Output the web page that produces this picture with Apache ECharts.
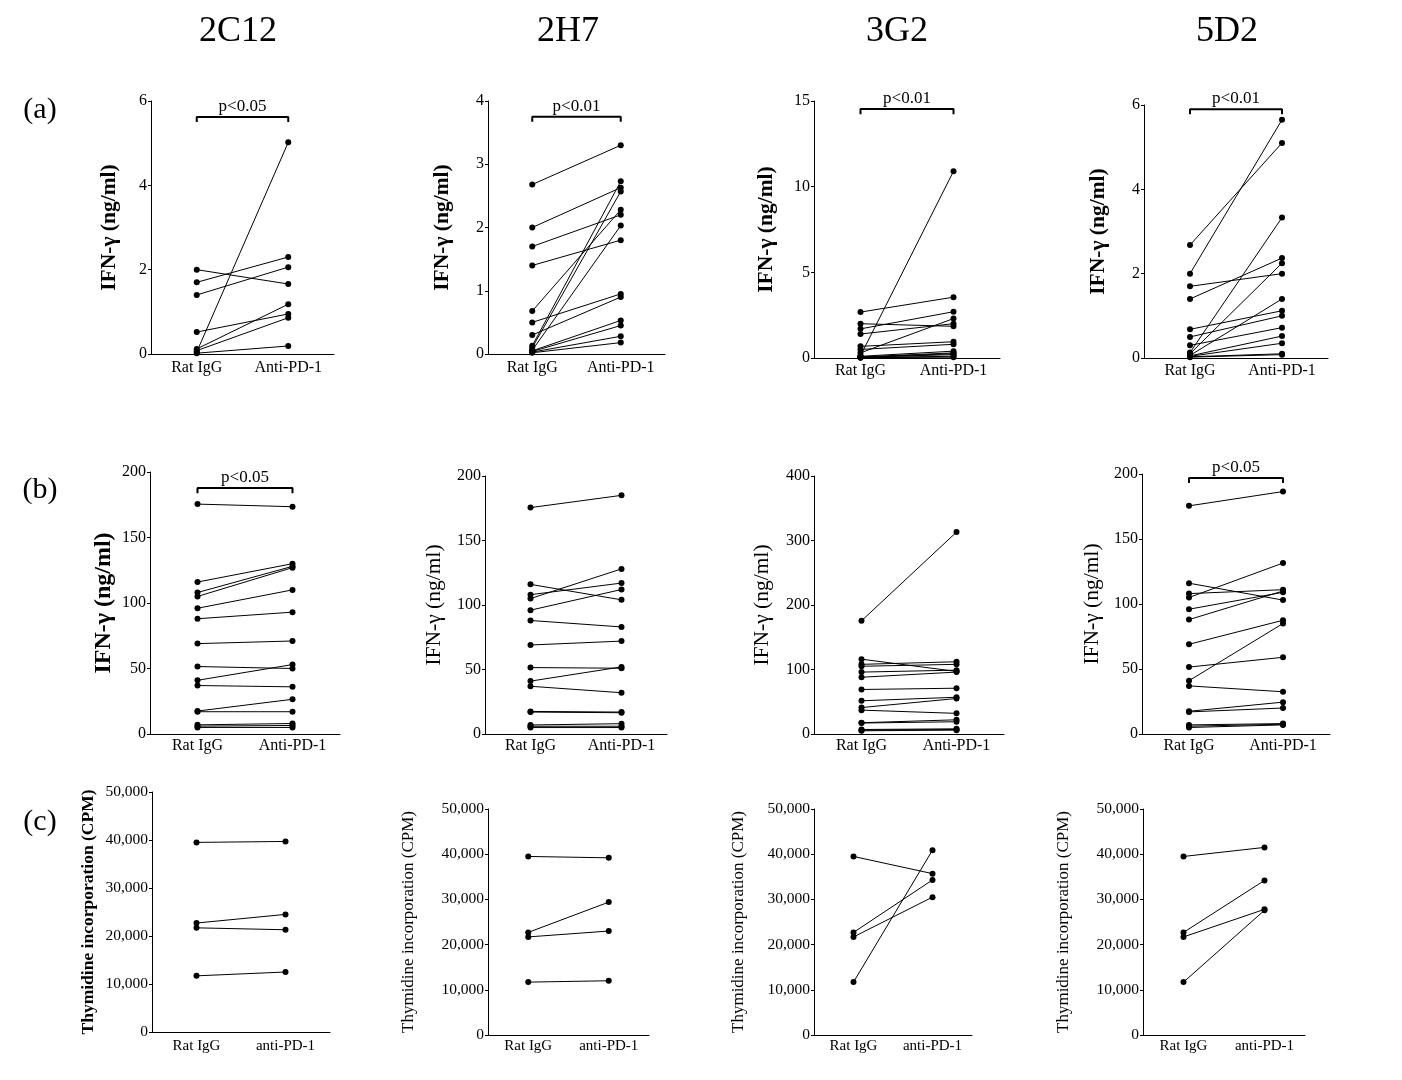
<!DOCTYPE html>
<html>
<head>
<meta charset="utf-8">
<script src="https://cdn.jsdelivr.net/npm/echarts@6/dist/echarts.min.js"></script>
<style>
  html, body { margin: 0; padding: 0; background: #fff; }
  #main { width: 1402px; height: 1080px; }
</style>
</head>
<body>
<div id="main"></div>
<script>
// categories
const catsAB = ['Rat IgG', 'Anti-PD-1'];
const catsC = ['Rat IgG', 'anti-PD-1'];
const columnTitles = ['2C12', '2H7', '3G2', '5D2'];
const rowTitles = ['(a)', '(b)', '(c)'];

// (a) IFN-gamma ng/ml, paired Rat IgG -> Anti-PD-1
const rat2C12a  = [0.05, 2.0, 1.7, 1.4, 0.52, 0.12, 0.08, 0.02];
const anti2C12a = [5.02, 1.66, 2.30, 2.06, 0.95, 1.18, 0.86, 0.19];
const ratA     = [2.68, 2.0, 1.7, 1.4, 0.68, 0.5, 0.3, 0.13, 0.1, 0.06, 0.05, 0.04, 0.03, 0.02];
const anti2H7a = [3.3, 2.63, 2.2, 1.8, 2.28, 0.95, 0.9, 2.73, 2.57, 2.03, 0.53, 0.45, 0.28, 0.18];
const anti3G2a = [3.55, 1.85, 2.7, 2.0, 0.95, 0.8, 2.3, 10.9, 0.4, 0.3, 0.25, 0.2, 0.1, 0.05];
const anti5D2a = [5.1, 5.65, 2.0, 2.37, 1.12, 1.0, 0.72, 3.33, 2.25, 1.4, 0.52, 0.35, 0.1, 0.08];

// (b) IFN-gamma ng/ml
const ratB      = [175.5, 116, 108, 105, 96, 88, 69, 51.5, 41, 37, 17.5, 17, 7, 6, 5];
const anti2C12b = [173.5, 130, 128, 127, 110, 93, 71, 50, 53, 36, 26.5, 17, 8, 6.5, 5];
const anti2H7b  = [185, 104, 117, 128, 112, 83, 72, 51, 52, 32, 17, 16.5, 8, 6, 5];
const anti3G2b  = [313, 97, 112, 108, 99, 96, 71, 57, 55, 32, 22, 19, 8, 7, 6];
const anti5D2b  = [186.5, 103, 111, 131.5, 109, 110, 87.5, 59, 85, 32.5, 24.5, 20, 8, 7.5, 7];

// (c) thymidine incorporation CPM
const ratC      = [39500, 22700, 21700, 11700];
const anti2C12c = [39700, 24500, 21300, 12500];
const anti2H7c  = [39200, 29400, 23000, 12000];
const anti3G2c  = [35700, 34300, 30500, 40900];
const anti5D2c  = [41500, 34200, 27800, 27600];

// axis ranges / brackets
const yMaxA = [6, 4, 15, 6], yStepA = [2, 1, 5, 2];
const yMaxB = [200, 200, 400, 200], yStepB = [50, 50, 100, 50];
const yMaxC = 50000, yStepC = 10000;
const bracketA = [5.62, 3.75, 14.53, 5.9], pTextA = ['p<0.05', 'p<0.01', 'p<0.01', 'p<0.01'];
const bracketB = [187.8, null, null, 197], pTextB = ['p<0.05', null, null, 'p<0.05'];

const ifnName = 'IFN-\u03b3 (ng/ml)';
const thyName = 'Thymidine incorporation (CPM)';
const FONT = '"Liberation Serif", "Times New Roman", serif';

// panel layout
const panels = [
  { rat: rat2C12a, anti: anti2C12a, cats: catsAB, max: yMaxA[0], step: yStepA[0], box: [151, 101, 183, 253], name: ifnName, gap: 31, nsize: 21.5, nweight: 'bold', xm: 6, bracket: bracketA[0], p: pTextA[0] },
  { rat: ratA, anti: anti2H7a, cats: catsAB, max: yMaxA[1], step: yStepA[1], box: [488, 101, 177, 253], name: ifnName, gap: 35, nsize: 21.5, nweight: 'bold', xm: 6, bracket: bracketA[1], p: pTextA[1] },
  { rat: ratA, anti: anti3G2a, cats: catsAB, max: yMaxA[2], step: yStepA[2], box: [814, 101, 186, 257], name: ifnName, gap: 37, nsize: 21.5, nweight: 'bold', xm: 5, bracket: bracketA[2], p: pTextA[2] },
  { rat: ratA, anti: anti5D2a, cats: catsAB, max: yMaxA[3], step: yStepA[3], box: [1144, 105, 184, 253], name: ifnName, gap: 35, nsize: 21.5, nweight: 'bold', xm: 5, bracket: bracketA[3], p: pTextA[3] },

  { rat: ratB, anti: anti2C12b, cats: catsAB, max: yMaxB[0], step: yStepB[0], box: [150, 472, 190, 262], name: ifnName, gap: 34, nsize: 24, nweight: 'bold', xm: 4, bracket: bracketB[0], p: pTextB[0] },
  { rat: ratB, anti: anti2H7b, cats: catsAB, max: yMaxB[1], step: yStepB[1], box: [485, 476, 182, 258], name: ifnName, gap: 40, nsize: 21.5, nweight: 'normal', xm: 4, bracket: bracketB[1], p: pTextB[1] },
  { rat: ratB, anti: anti3G2b, cats: catsAB, max: yMaxB[2], step: yStepB[2], box: [814, 476, 190, 258], name: ifnName, gap: 41, nsize: 21.5, nweight: 'normal', xm: 4, bracket: bracketB[2], p: pTextB[2] },
  { rat: ratB, anti: anti5D2b, cats: catsAB, max: yMaxB[3], step: yStepB[3], box: [1142, 474, 188, 260], name: ifnName, gap: 39, nsize: 21.5, nweight: 'normal', xm: 4, bracket: bracketB[3], p: pTextB[3] },

  { rat: ratC, anti: anti2C12c, cats: catsC, max: yMaxC, step: yStepC, box: [152, 792, 178, 240], name: thyName, gap: 55, nsize: 17.5, nweight: 'bold', xm: 7, xsize: 15 },
  { rat: ratC, anti: anti2H7c, cats: catsC, max: yMaxC, step: yStepC, box: [488, 809, 161, 226], name: thyName, gap: 71, nsize: 17, nweight: 'normal', xm: 4, xsize: 15 },
  { rat: ratC, anti: anti3G2c, cats: catsC, max: yMaxC, step: yStepC, box: [814, 809, 158, 226], name: thyName, gap: 67, nsize: 17, nweight: 'normal', xm: 4, xsize: 15 },
  { rat: ratC, anti: anti5D2c, cats: catsC, max: yMaxC, step: yStepC, box: [1143, 809, 162, 226], name: thyName, gap: 71, nsize: 17, nweight: 'normal', xm: 4, xsize: 15 }
];

const chart = echarts.init(document.getElementById('main'), null, { renderer: 'canvas' });

const black = { color: '#000', width: 1 };
const grids = [], xAxes = [], yAxes = [], series = [];

panels.forEach(function (p, i) {
  grids.push({
    left: p.box[0], top: p.box[1], width: p.box[2], height: p.box[3],
    containLabel: false, outerBoundsMode: 'none'
  });
  xAxes.push({
    type: 'category', gridIndex: i, data: p.cats, boundaryGap: true,
    axisLine: { show: true, lineStyle: black },
    axisTick: { show: false },
    axisLabel: { color: '#000', fontFamily: FONT, fontSize: p.xsize || 16, margin: p.xm },
    splitLine: { show: false }
  });
  yAxes.push({
    type: 'value', gridIndex: i, min: 0, max: p.max, interval: p.step,
    name: p.name, nameLocation: 'middle', nameRotate: 90, nameGap: p.gap,
    nameTextStyle: { color: '#000', fontFamily: FONT, fontSize: p.nsize, fontWeight: p.nweight },
    axisLine: { show: true, lineStyle: black },
    axisTick: { show: true, length: 3, lineStyle: black },
    axisLabel: {
      color: '#000', fontFamily: FONT, fontSize: p.max >= 10000 ? 15.5 : 16, margin: 4,
      formatter: function (v) { return p.max >= 10000 ? echarts.format.addCommas(v) : String(v); }
    },
    splitLine: { show: false }
  });
  p.rat.forEach(function (r, k) {
    series.push({
      type: 'line', xAxisIndex: i, yAxisIndex: i,
      data: [r, p.anti[k]],
      symbol: 'circle', symbolSize: 6, showSymbol: true,
      itemStyle: { color: '#000' },
      lineStyle: { color: '#000', width: 1 },
      silent: true, animation: false, z: 3
    });
  });
  if (p.bracket != null) {
    const d = p.max * 0.02;
    series.push({
      type: 'line', xAxisIndex: i, yAxisIndex: i,
      data: [[p.cats[0], p.bracket - d], [p.cats[0], p.bracket], [p.cats[1], p.bracket], [p.cats[1], p.bracket - d]],
      symbol: 'none', lineStyle: { color: '#000', width: 2 },
      silent: true, animation: false, z: 4
    });
  }
});

const staticText = [];
columnTitles.forEach(function (t, j) {
  staticText.push({
    type: 'text', x: [238, 568, 897, 1227][j], y: 32,
    style: { text: t, font: '36px ' + FONT, fill: '#000', textAlign: 'center', textVerticalAlign: 'middle' }
  });
});
rowTitles.forEach(function (t, j) {
  staticText.push({
    type: 'text', x: 40, y: [110, 490, 822][j],
    style: { text: t, font: '30px ' + FONT, fill: '#000', textAlign: 'center', textVerticalAlign: 'middle' }
  });
});

chart.setOption({
  animation: false,
  backgroundColor: '#fff',
  grid: grids,
  xAxis: xAxes,
  yAxis: yAxes,
  series: series,
  graphic: staticText
});

// p-value labels placed above the brackets through the axes' scales
const pLabels = [];
panels.forEach(function (p, i) {
  if (p.bracket == null) return;
  const a = chart.convertToPixel({ gridIndex: i }, [0, p.bracket]);
  const b = chart.convertToPixel({ gridIndex: i }, [1, p.bracket]);
  pLabels.push({
    type: 'text', x: (a[0] + b[0]) / 2, y: a[1] - 2,
    style: { text: p.p, font: '17px ' + FONT, fill: '#000', textAlign: 'center', textVerticalAlign: 'bottom' }
  });
});
chart.setOption({ graphic: staticText.concat(pLabels) });
</script>
</body>
</html>
